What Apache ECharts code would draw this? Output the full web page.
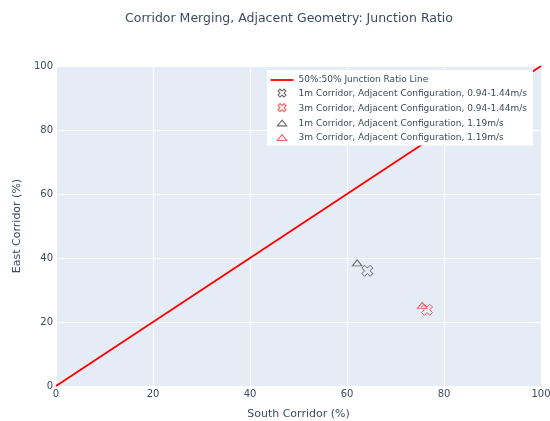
<!DOCTYPE html>
<html>
<head>
<meta charset="utf-8">
<script src="https://cdn.jsdelivr.net/npm/echarts@6/dist/echarts.min.js"></script>
<style>html,body{margin:0;padding:0;background:#fff}#c{width:550px;height:421px}</style>
</head>
<body>
<div id="c"></div>
<script>
const seriesNames = [
  '50%:50% Junction Ratio Line',
  '1m Corridor, Adjacent Configuration, 0.94-1.44m/s',
  '3m Corridor, Adjacent Configuration, 0.94-1.44m/s',
  '1m Corridor, Adjacent Configuration, 1.19m/s',
  '3m Corridor, Adjacent Configuration, 1.19m/s'
];
const seriesColors = ['#ff0000', '#444444', '#ef3b3b', '#444444', '#ef3b3b'];
const ratioLine = [[0, 0], [100, 100]];
const oneMRange = [[64.2, 36.0]];
const threeMRange = [[76.5, 23.8]];
const oneMFixed = [[62.1, 38.5]];
const threeMFixed = [[75.5, 25.2]];
const xTicks = [0, 20, 40, 60, 80, 100];
const yTicks = [0, 20, 40, 60, 80, 100];

const xOpen = 'path://M0,1L1,2L2,1L1,0L2,-1L1,-2L0,-1L-1,-2L-2,-1L-1,0L-2,1L-1,2Z';
const triOpen = 'path://M-1.1547,0.5H1.1547L0,-1Z';
const lgLine = 'path://M0,0M23,10M0,4.1H23V5.9H0Z';
const lgX = 'path://M0,0M23,10M11.5,6L13.5,8L15.5,6L13.5,4L15.5,2L13.5,0L11.5,2L9.5,0L7.5,2L9.5,4L7.5,6L9.5,8Z';
const lgTri = 'path://M0,0M23,10M6.8,7.6H16.2L11.5,1.8Z';
const font = 'DejaVu Sans, Verdana, sans-serif';
const txt = '#3d4b60';
const chart = echarts.init(document.getElementById('c'));
function scat(name, data, sym, color, size) {
  return {
    name: name, type: 'scatter', data: data, symbol: sym, symbolSize: size,
    itemStyle: { color: 'rgba(0,0,0,0)', borderColor: color, borderWidth: 1 },
    z: 5
  };
}
function openItem(i, icon) {
  return { name: seriesNames[i], icon: icon,
    itemStyle: { color: 'rgba(0,0,0,0)', borderColor: seriesColors[i], borderWidth: 1.1 } };
}
chart.setOption({
  animation: false,
  backgroundColor: '#fff',
  title: {
    text: 'Corridor Merging, Adjacent Geometry: Junction Ratio',
    left: 120, top: 7,
    textStyle: { fontFamily: font, fontSize: 12.5, fontWeight: 'normal', color: txt }
  },
  grid: { left: 56, right: 9, top: 66, bottom: 35, backgroundColor: '#e5ecf6', show: true, borderWidth: 0, outerBoundsMode: 'none', containLabel: false },
  xAxis: {
    type: 'value', min: xTicks[0], max: xTicks[xTicks.length - 1], interval: 20,
    name: 'South Corridor (%)', nameLocation: 'middle', nameGap: 23,
    nameTextStyle: { fontFamily: font, fontSize: 11, color: txt },
    axisLine: { show: false }, axisTick: { show: false },
    axisLabel: { fontFamily: font, fontSize: 10, color: txt, margin: 3 },
    splitLine: { lineStyle: { color: '#fff', width: 1 } }
  },
  yAxis: {
    type: 'value', min: yTicks[0], max: yTicks[yTicks.length - 1], interval: 20,
    name: 'East Corridor (%)', nameLocation: 'middle', nameGap: 33,
    nameTextStyle: { fontFamily: font, fontSize: 11, color: txt },
    axisLine: { show: false }, axisTick: { show: false },
    axisLabel: { fontFamily: font, fontSize: 10, color: txt, margin: 3 },
    splitLine: { lineStyle: { color: '#fff', width: 1 } }
  },
  legend: {
    orient: 'vertical', left: 267, top: 70,
    backgroundColor: '#fff', padding: [5, 6, 2, 3],
    itemGap: 3.5, itemWidth: 23, itemHeight: 10, symbolKeepAspect: true,
    textStyle: { fontFamily: font, fontSize: 9, color: txt },
    data: [
      { name: seriesNames[0], icon: lgLine, itemStyle: { color: seriesColors[0], borderWidth: 0 } },
      openItem(1, lgX),
      openItem(2, lgX),
      openItem(3, lgTri),
      openItem(4, lgTri)
    ]
  },
  series: [
    {
      name: seriesNames[0], type: 'line', data: ratioLine, symbol: 'none',
      lineStyle: { color: seriesColors[0], width: 1.8 }, itemStyle: { color: seriesColors[0] }, z: 3
    },
    scat(seriesNames[1], oneMRange, xOpen, seriesColors[1], 11),
    scat(seriesNames[2], threeMRange, xOpen, seriesColors[2], 11),
    scat(seriesNames[3], oneMFixed, triOpen, seriesColors[3], [9.5, 6]),
    scat(seriesNames[4], threeMFixed, triOpen, seriesColors[4], [9.5, 6])
  ]
});
</script>
</body>
</html>
